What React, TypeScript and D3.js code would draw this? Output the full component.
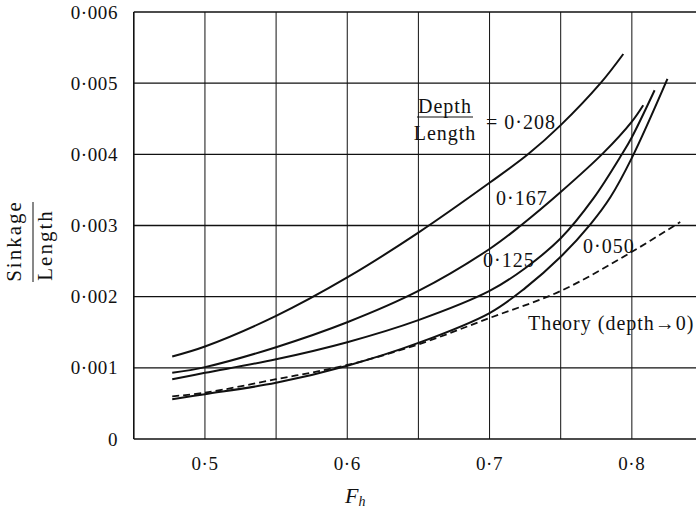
import React from 'react';
import * as d3 from 'd3';

// values: [Fh, sinkage/length]
const curve208: [number, number][] = [
  [0.477, 0.00116], [0.5, 0.0013], [0.55, 0.00173], [0.6, 0.00227], [0.65, 0.0029],
  [0.7, 0.0036], [0.727, 0.004], [0.75, 0.00441], [0.778, 0.005], [0.794, 0.00541],
];
const curve167: [number, number][] = [
  [0.477, 0.00093], [0.5, 0.00101], [0.55, 0.00129], [0.6, 0.00164], [0.65, 0.00208],
  [0.7, 0.00267], [0.722, 0.003], [0.75, 0.00347], [0.78, 0.00402], [0.8, 0.00446], [0.808, 0.00469],
];
const curve125: [number, number][] = [
  [0.477, 0.00084], [0.5, 0.00093], [0.55, 0.00112], [0.6, 0.00136], [0.65, 0.00167],
  [0.7, 0.00208], [0.725, 0.0024], [0.75, 0.00282], [0.773, 0.00338], [0.793, 0.004],
  [0.8, 0.00424], [0.816, 0.0049],
];
const curve050: [number, number][] = [
  [0.477, 0.00056], [0.5, 0.00063], [0.55, 0.00079], [0.6, 0.00103], [0.65, 0.00135],
  [0.7, 0.00177], [0.725, 0.00212], [0.75, 0.00256], [0.771, 0.00302], [0.785, 0.0034],
  [0.8, 0.00395], [0.825, 0.00506],
];
const theory: [number, number][] = [
  [0.477, 0.0006], [0.5, 0.00065], [0.55, 0.00084], [0.6, 0.00104], [0.65, 0.00133],
  [0.7, 0.0017], [0.75, 0.00208], [0.8, 0.00263], [0.834, 0.00305],
];

const xGrid = [0.45, 0.5, 0.55, 0.6, 0.65, 0.7, 0.75, 0.8, 0.85];
const xTickLabels = [0.5, 0.6, 0.7, 0.8];
const yTicks = [0, 0.001, 0.002, 0.003, 0.004, 0.005, 0.006];

const W = 696;
const H = 508;
const font = '"Liberation Serif", "Times New Roman", serif';

const x = d3.scaleLinear().domain([0.45, 0.85]).range([133.8, 703]);
const y = d3.scaleLinear().domain([0, 0.006]).range([439, 12]);

const line = d3.line<[number, number]>()
  .x(d => x(d[0]))
  .y(d => y(d[1]))
  .curve(d3.curveCatmullRom.alpha(0.5));

const fmt = (v: number) => (v === 0 ? '0' : String(v).replace('.', '·'));

export default function App() {
  const solid = [curve208, curve167, curve125, curve050];
  return (
    <svg width={W} height={H} style={{ position: 'absolute', left: 0, top: 0, background: '#fff' }}
      fontFamily={font}>
      <rect width={W} height={H} fill="#fff" />
      {/* grid */}
      {xGrid.map(v => (
        <line key={'vx' + v} x1={x(v)} x2={x(v)} y1={y(0.006)} y2={y(0)}
          stroke="#111" strokeWidth={v === 0.45 ? 1.6 : 1} />
      ))}
      {yTicks.map(v => (
        <line key={'hy' + v} x1={x(0.45)} x2={W} y1={y(v)} y2={y(v)}
          stroke="#111" strokeWidth={v === 0 ? 1.6 : 1.3} />
      ))}
      {/* tick labels */}
      {yTicks.map(v => (
        <text key={'ty' + v} x={118} y={y(v)} dy="0.35em" textAnchor="end"
          fontSize={19} letterSpacing={0.6} fill="#111">{fmt(v)}</text>
      ))}
      {xTickLabels.map(v => (
        <text key={'tx' + v} x={x(v)} y={470} textAnchor="middle"
          fontSize={19} letterSpacing={0.6} fill="#111">{fmt(v)}</text>
      ))}
      {/* curves */}
      {solid.map((c, i) => (
        <path key={'c' + i} d={line(c) || ''} fill="none" stroke="#111" strokeWidth={2} />
      ))}
      <path d={line(theory) || ''} fill="none" stroke="#111" strokeWidth={1.8} strokeDasharray="7 4" />
      {/* curve labels */}
      <g fontSize={20} letterSpacing={1} fill="#111">
        <text x={445} y={113} textAnchor="middle">Depth</text>
        <line x1={417} x2={473} y1={117} y2={117} stroke="#111" strokeWidth={1} />
        <text x={445} y={140} textAnchor="middle">Length</text>
        <text x={486} y={129}>= 0·208</text>
        <text x={496} y={205}>0·167</text>
        <text x={483} y={267}>0·125</text>
        <text x={583} y={253}>0·050</text>
        <text x={528} y={330}>Theory (depth→0)</text>
      </g>
      {/* y label */}
      <g fontSize={21} letterSpacing={2} fill="#111">
        <text transform="translate(21,241) rotate(-90)" textAnchor="middle">Sinkage</text>
        <line x1={33} x2={33} y1={202} y2={282} stroke="#111" strokeWidth={1} />
        <text transform="translate(52,245) rotate(-90)" textAnchor="middle">Length</text>
      </g>
      {/* x label */}
      <text x={345} y={503} fontSize={22} fontStyle="italic" fill="#111">
        F<tspan fontSize={14} dy={3}>h</tspan>
      </text>
    </svg>
  );
}
